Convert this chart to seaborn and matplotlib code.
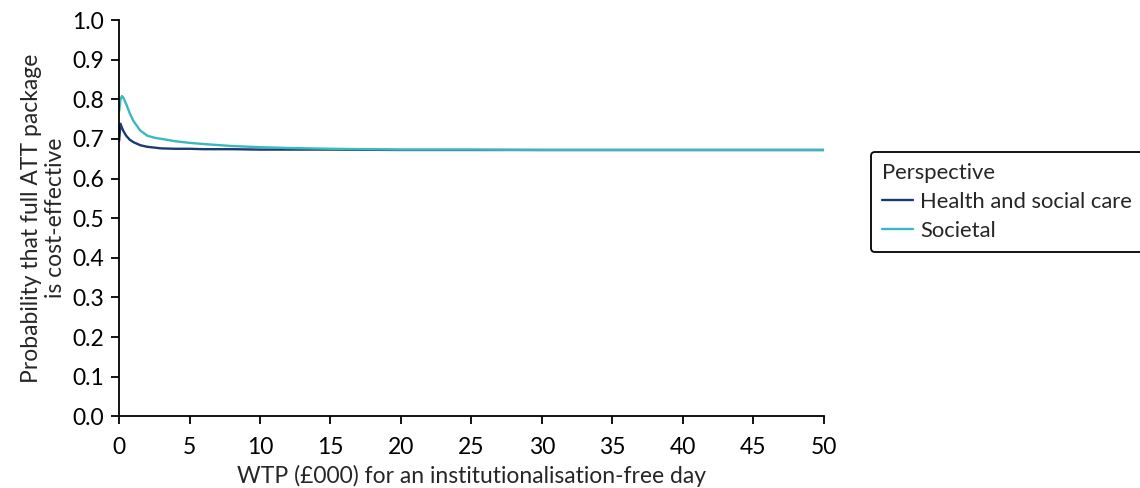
import pandas as pd
import matplotlib.pyplot as plt
import seaborn as sns

# WTP (£000) grid and curve values
wtp = [0, 0.1, 0.2, 0.3, 0.5, 0.75, 1, 1.5, 2, 2.5, 3, 4, 5, 6, 8, 10, 12, 15, 20, 25, 30, 40, 50]
health = [0.695, 0.738, 0.728, 0.720, 0.708, 0.698, 0.692, 0.684, 0.680, 0.678, 0.676, 0.675, 0.675, 0.674, 0.674,
          0.673, 0.673, 0.673, 0.672, 0.672, 0.672, 0.672, 0.672]
societal = [0.770, 0.800, 0.808, 0.804, 0.788, 0.765, 0.746, 0.721, 0.708, 0.703, 0.700, 0.694, 0.690, 0.687, 0.682,
            0.679, 0.677, 0.675, 0.673, 0.673, 0.672, 0.672, 0.672]

df = pd.concat([
    pd.DataFrame({'wtp': wtp, 'prob': health, 'Perspective': 'Health and social care'}),
    pd.DataFrame({'wtp': wtp, 'prob': societal, 'Perspective': 'Societal'}),
])

FS = 16.5
LFS = 15.8
sns.set_style("ticks")
plt.rcParams['font.family'] = ['Lato', 'DejaVu Sans']
plt.rcParams['font.size'] = FS

fig = plt.figure(figsize=(11.4, 4.88), dpi=100)
ax = fig.add_axes([0.1045, 0.147, 0.618, 0.812])
sns.lineplot(data=df, x='wtp', y='prob', hue='Perspective',
             palette=['#1b3a72', '#3ab7bf'], linewidth=1.7, ax=ax)

ax.set_xlim(0, 50)
ax.set_ylim(0, 1.0)
ax.set_xticks(range(0, 51, 5))
ax.set_yticks([i / 10 for i in range(11)])
ax.set_yticklabels([f'{i / 10:.1f}' for i in range(11)])
ax.tick_params(labelsize=FS, length=6, width=1.3, color='black', labelcolor='black')
ax.tick_params(axis='x', pad=9)
ax.tick_params(axis='y', pad=5)
for s in ['top', 'right']:
    ax.spines[s].set_visible(False)
for s in ['left', 'bottom']:
    ax.spines[s].set_color('black')
    ax.spines[s].set_linewidth(1.3)

ax.set_xlabel('WTP (£000) for an institutionalisation-free day', fontsize=FS, labelpad=5)
ax.set_ylabel('Probability that full ATT package\nis cost-effective', fontsize=FS, labelpad=4)

leg = ax.legend(title='Perspective', loc='upper left', bbox_to_anchor=(0.764, 0.689),
                bbox_transform=fig.transFigure, frameon=True, fancybox=True,
                fontsize=LFS, title_fontsize=LFS, alignment='left',
                handlelength=1.4, handletextpad=0.35, borderpad=0.5, labelspacing=0.42,
                borderaxespad=0)
leg.get_frame().set_edgecolor('black')
leg.get_frame().set_linewidth(1.3)
leg.get_frame().set_alpha(1)

fig.savefig('out.png', dpi=100)
